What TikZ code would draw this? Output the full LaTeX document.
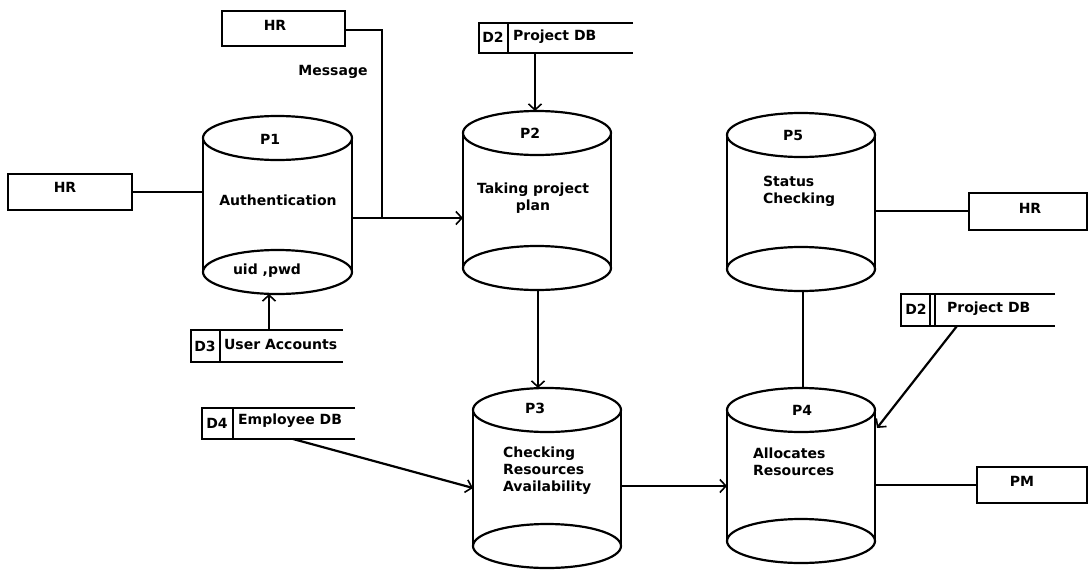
\documentclass[tikz,border=0pt]{standalone}
\usepackage{fontspec}
\setmainfont{DejaVu Sans}
\usetikzlibrary{arrows.meta,fit}
\newcommand\mycyl[5]{% name, cx, rx, top y, bottom y
  \draw (#2,#4) ellipse [x radius=#3pt, y radius=22pt];
  \draw (#2,#5) ellipse [x radius=#3pt, y radius=22pt];
  \draw (#2-#3,#4) -- (#2-#3,#5);
  \draw (#2+#3,#4) -- (#2+#3,#5);
  \node[hold, fit={(#2-#3,#4-22) (#2+#3,#5+22)}] (#1) {};
}
\newcommand\mystore[5]{% name, left, top, right, bottom
  \node[hold, fit={(#2,#3) (#4,#5)}] (#1) {};
  \draw (#1.north east) -- (#1.north west) -- (#1.south west) -- (#1.south east);
}
\begin{document}
\begin{tikzpicture}[x=1pt,y=-1pt, line width=2.2pt,
  hold/.style={inner sep=0pt, outer sep=0pt, draw=none},
  lbl/.style={font=\bfseries\fontsize{14}{17}\selectfont, inner sep=0pt},
  ebox/.style={draw, inner sep=0pt, outer sep=0pt},
  arr/.style={-{Straight Barb[length=6pt,width=13pt,line width=1.6pt]}},
]
\useasboundingbox (0,0) rectangle (1089,570);

% external entities
\node[ebox, fit={(8,174) (132,210)}] (hr1) {};
\node[lbl] (hr1t) at (65,187) {HR};
\node[ebox, fit={(222,11) (345,46)}] (hr2) {};
\node[lbl] (hr2t) at (275,25) {HR};
\node[ebox, fit={(969,193) (1087,230)}] (hr3) {};
\node[lbl] (hr3t) at (1030,208) {HR};
\node[ebox, fit={(977,467) (1087,503)}] (pm) {};
\node[lbl] (pmt) at (1022,481) {PM};
\node[lbl] (msg) at (333,72) {Message};

% processes
\mycyl{p1}{277.5}{74.5}{138}{272}
\node[lbl] (p1a) at (270,139) {P1};
\node[lbl] (p1b) at (278,200) {Authentication};
\node[lbl] (p1c) at (267,271) {uid ,pwd};

\mycyl{p2}{537}{74}{133}{268}
\node[lbl] (p2a) at (530,133) {P2};
\node[lbl, align=center] (p2b) at (533,198) {Taking project\\plan};

\mycyl{p3}{547}{74}{410}{546}
\node[lbl] (p3a) at (535,408) {P3};
\node[lbl, align=left, anchor=west] (p3b) at (502,471) {Checking\\Resources\\Availability};

\mycyl{p4}{801}{74}{410}{541}
\node[lbl] (p4a) at (802,410) {P4};
\node[lbl, align=left, anchor=west] (p4b) at (752,462) {Allocates\\Resources};

\mycyl{p5}{801}{74}{135}{269}
\node[lbl] (p5a) at (793,135) {P5};
\node[lbl, align=left, anchor=west] (p5b) at (762,191) {Status\\Checking};

% data stores
\mystore{d2a}{479}{23}{633}{53}
\draw ([xshift=29pt]d2a.north west) -- ([xshift=29pt]d2a.south west);
\node[lbl] (d2at) at (493,37) {D2};
\node[lbl, anchor=west] (d2ab) at (512,37) {Project DB};

\mystore{d3}{191}{330}{343}{362}
\draw ([xshift=29pt]d3.north west) -- ([xshift=29pt]d3.south west);
\node[lbl] (d3t) at (205,346) {D3};
\node[lbl, anchor=west] (d3b) at (223,344) {User Accounts};

\mystore{d4}{202}{408}{355}{439}
\draw ([xshift=31pt]d4.north west) -- ([xshift=31pt]d4.south west);
\node[lbl] (d4t) at (217,423) {D4};
\node[lbl, anchor=west] (d4b) at (237,421) {Employee DB};

\mystore{d2b}{901}{294}{1055}{326}
\draw ([xshift=29pt]d2b.north west) -- ([xshift=29pt]d2b.south west);
\draw ([xshift=34pt]d2b.north west) -- ([xshift=34pt]d2b.south west);
\node[lbl] (d2bt) at (916,309) {D2};
\node[lbl, anchor=west] (d2bb) at (946,309) {Project DB};

% connectors
\coordinate (jn) at (382,218);
\draw (hr1.east) -- (hr1.east -| p1.west);
\draw ([yshift=-1.5pt]hr2.east) -| (jn);
\draw[arr] (p1.east |- jn) -- (jn -| p2.west);
\draw[arr] ([xshift=56pt]d2a.south west) -- ([xshift=56pt]d2a.south west |- p2.north);
\draw[arr] ([xshift=78pt]d3.north west) -- ([xshift=78pt]d3.north west |- p1.south);
\draw[arr] ([xshift=1pt]p2.south) -- ([xshift=1pt]p2.south |- p3.north);
\draw[arr] ([xshift=91pt]d4.south west) -- ([yshift=-10pt]p3.west);
\draw[arr] ([yshift=-8pt]p3.east) -- ([yshift=-8pt]p3.east -| p4.west);
\draw ([xshift=2pt]p5.south) -- ([xshift=2pt]p5.south |- p4.north);
\draw ([yshift=-9pt]p5.east) -- ([yshift=-9pt]p5.east -| hr3.west);
\draw[arr] ([xshift=56pt]d2b.south west) -- ([xshift=2pt,yshift=-40pt]p4.north east);
\draw ([yshift=-9.5pt]p4.east) -- ([yshift=-9.5pt]p4.east -| pm.west);
\end{tikzpicture}
\end{document}
